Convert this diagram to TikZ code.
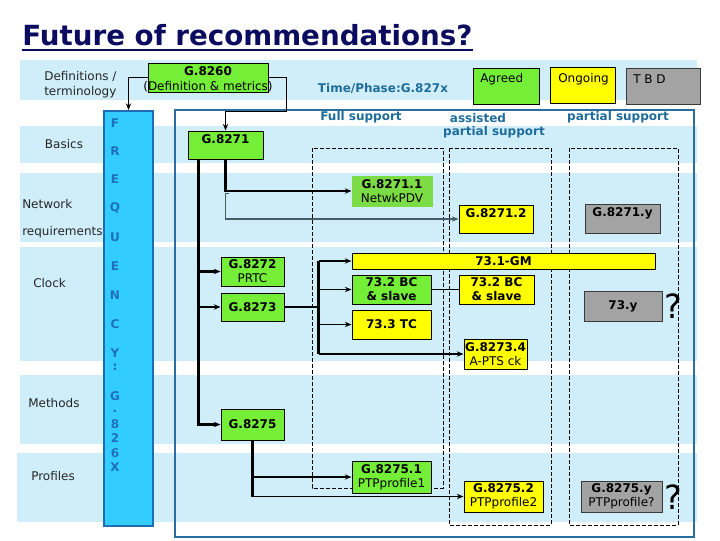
\documentclass[tikz,border=0pt]{standalone}
\usepackage{fontspec}
\setmainfont{DejaVu Sans}
\usetikzlibrary{arrows.meta}
\definecolor{bandblue}{HTML}{CFEEFA}
\definecolor{grn}{HTML}{74EE36}
\definecolor{grn2}{HTML}{7CDC46}
\definecolor{yel}{HTML}{FFFF00}
\definecolor{gry}{HTML}{A3A3A3}
\definecolor{gryb}{HTML}{3A3A3A}
\definecolor{frameblue}{HTML}{2B6E9E}
\definecolor{freqfill}{HTML}{33CCFF}
\definecolor{freqborder}{HTML}{1F6DB4}
\definecolor{freqtxt}{HTML}{1E6FBE}
\definecolor{hdrblue}{HTML}{1E6C9C}
\definecolor{titlenavy}{HTML}{0B0B5F}
\definecolor{greyline}{HTML}{4B5B66}
\newcommand\boxfont{\fontsize{9}{10.5}\selectfont}
\newcommand\lblfont{\fontsize{9}{10.5}\selectfont}
\begin{document}
\begin{tikzpicture}[x=0.75pt,y=-0.75pt,
  band/.style={fill=bandblue},
  bx/.style={draw=black, line width=0.75pt, inner sep=0pt, align=center, font=\boxfont},
  gbox/.style={bx, fill=grn},
  ybox/.style={bx, fill=yel},
  kbox/.style={bx, fill=gry, draw=gryb},
  wh/.style 2 args={minimum width=#1*0.75pt, minimum height=#2*0.75pt},
  conn/.style={line width=0.8pt},
  conn2/.style={line width=1.1pt},
  thk/.style={line width=1.6pt},
  greyl/.style={line width=1.1pt, draw=greyline},
  tip/.style={-{Stealth[length=5pt,width=4pt]}},
  dbox/.style={draw=black, line width=0.6pt, dash pattern=on 3pt off 1.5pt},
  hdr/.style={text=hdrblue, font=\boxfont\bfseries, inner sep=0pt},
  lbl/.style={font=\lblfont, text=black!85, inner sep=0pt},
  txt/.style={font=\boxfont, inner sep=0pt},
  btxt/.style={font=\boxfont\bfseries, inner sep=0pt},
  freqch/.style={text=freqtxt, font=\boxfont\bfseries, inner sep=0pt},
  qm/.style={font=\fontsize{25}{25}\selectfont, inner sep=0pt},
]
\useasboundingbox (0,0) rectangle (720,540);
\fill[white] (0,0) rectangle (720,540);
% bands
\fill[band] (20,60) rectangle (697,100);
\fill[band] (20,126) rectangle (697,163);
\fill[band] (20,173) rectangle (697,242);
\fill[band] (20,247) rectangle (697,361);
\fill[band] (20,375) rectangle (697,444);
\fill[band] (17,453) rectangle (697,522);
% title
\node[anchor=base west, inner sep=0pt, font=\fontsize{20.8}{24}\selectfont\bfseries, text=titlenavy] (title) at (22,45) {Future of recommendations?};
\draw[titlenavy, line width=1.6pt] ([yshift=-4pt]title.base west) -- ([yshift=-4pt]title.base east);
% left labels
\node[lbl, anchor=west] (ldef1) at (44,76) {Definitions /};
\node[lbl, anchor=west] (ldef2) at (44,92) {terminology};
\node[lbl] (lbas) at (64,144) {Basics};
\node[lbl, anchor=west] (lnet) at (22,204) {Network};
\node[lbl, anchor=west] (lreq) at (22,232) {requirements};
\node[lbl, anchor=west] (lclk) at (33,283) {Clock};
\node[lbl, anchor=west] (lmet) at (28,403) {Methods};
\node[lbl, anchor=west] (lpro) at (31,476) {Profiles};
% frame
\draw[frameblue, line width=1.5pt] (175,110) rectangle (694,537);
% FREQ column
\node[draw=freqborder, fill=freqfill, line width=1.5pt, wh={49}{415}] (freq) at (128.5,318.5) {};
\foreach \c/\yy [count=\i] in {F/123, R/151, E/179, Q/208, U/237, E/266, N/295, C/324, Y/353, :/367, G/396, ./411, 8/424, 2/438, 6/453, X/467}
  \node[freqch] (fq\i) at (115,\yy) {\c};
% headers
\node[hdr] (htime) at (383,88) {Time/Phase:G.827x};
\node[hdr] (hfull) at (361,117) {Full support};
\node[hdr] (hasst) at (478,118) {assisted};
\node[hdr] (hpart1) at (494,132) {partial support};
\node[hdr] (hpart2) at (618,117) {partial support};
% legend
\node[gbox, wh={66}{36}] (agreed) at (506,86) {};
\node[txt, anchor=west] (agreedt) at (480,79) {Agreed};
\node[ybox, wh={65}{36}] (ongoing) at (582.5,85) {};
\node[txt, anchor=west] (ongoingt) at (558,79) {Ongoing};
\node[kbox, wh={74}{36}] (tbd) at (663,86) {};
\node[txt, anchor=west] (tbdt) at (633,79) {T B D};
% dashed columns
\draw[dbox] (312,148) rectangle (443,488);
\draw[dbox] (449,148) rectangle (551,525);
\draw[dbox] (569,148) rectangle (678,525);
% boxes
\node[gbox, wh={120}{29}] (g8260) at (208,77.5) {};
\node[btxt] (g8260t) at (208,71) {G.8260};
\node[txt] (g8260d) at (208,86.5) {(Definition \& metrics)};
\node[gbox, wh={75}{28}] (g8271) at (225.5,145) {};
\node[btxt] (g8271t) at (225.5,139) {G.8271};
\node[bx, fill=grn2, draw=grn2, wh={80}{30}] (g82711) at (392,191) {\textbf{G.8271.1}\\NetwkPDV};
\node[ybox, wh={74}{28}] (g82712) at (496,219) {};
\node[btxt] (g82712t) at (496,213) {G.8271.2};
\node[kbox, wh={75}{29}] (g8271y) at (622.5,218.5) {};
\node[btxt] (g8271yt) at (622.5,213) {G.8271.y};
\node[gbox, wh={63}{29}] (g8272) at (252.5,271.5) {\textbf{G.8272}\\PRTC};
\node[gbox, wh={63}{28}] (g8273) at (252.5,307) {\textbf{G.8273}};
\node[ybox, wh={303}{16}] (gm731) at (503.5,261) {\textbf{73.1-GM}};
\node[gbox, wh={79}{29}] (bc732a) at (391.5,289.5) {\textbf{73.2 BC}\\\textbf{\& slave}};
\node[ybox, wh={75}{29}] (bc732b) at (496.5,289.5) {\textbf{73.2 BC}\\\textbf{\& slave}};
\node[ybox, wh={79}{29}] (tc733) at (391.5,324.5) {\textbf{73.3 TC}};
\node[ybox, wh={63}{30}] (g82734) at (495.5,354) {\textbf{G.8273.4}\\A-PTS ck};
\node[kbox, wh={78}{30}] (y73) at (623,306) {\textbf{73.y}};
\node[gbox, wh={63}{31}] (g8275) at (252.5,424.5) {\textbf{G.8275}};
\node[gbox, wh={79}{32}] (g82751) at (391.5,477) {\textbf{G.8275.1}\\PTPprofile1};
\node[ybox, wh={79}{31}] (g82752) at (503.5,496.5) {\textbf{G.8275.2}\\PTPprofile2};
\node[kbox, wh={81}{31}] (g8275y) at (621.5,496.5) {\textbf{G.8275.y}\\PTPprofile?};
\node[qm] (q1) at (673,306) {?};
\node[qm] (q2) at (673,497) {?};
% connectors
\draw[conn2, tip] (g8260.west) -| (freq.north);
\draw[conn2, tip] (g8260.east) -- ++(18,0) |- ([shift={(0,-19)}]g8271.north) -- (g8271.north);
\coordinate (t1) at ([shift={(11,0)}]g8271.south west);
\draw[thk, tip] (t1) |- (g8275.west);
\draw[thk, tip] (t1 |- g8272.west) -- (g8272.west);
\draw[conn, tip] (t1 |- g8273.west) -- (g8273.west);
\draw[thk, tip] (g8271.south) |- (g82711.west);
\draw[greyl, tip] ([shift={(3,34)}]g8271.south) -- ([shift={(0,34)}]g8271.south) |- (g82712.west);
\coordinate (j) at ([shift={(34,0)}]g8273.east);
\draw[thk] (g8273.east) -- (j);
\draw[thk] (j |- gm731.west) -- (j |- g82734.west);
\draw[thk, tip] (j |- gm731.west) -- (gm731.west);
\draw[conn, tip] (j |- bc732a.west) -- (bc732a.west);
\draw[conn, tip] (j |- tc733.west) -- (tc733.west);
\draw[thk, tip] (j |- g82734.west) -- (g82734.west);
\draw[conn] (bc732a.east) -- (bc732b.west);
\draw[thk] (g8275.south) -- (g8275.south |- g82752.west);
\draw[thk, tip] (g8275.south |- g82751.west) -- (g82751.west);
\draw[conn, tip] (g8275.south |- g82752.west) -- (g82752.west);
\end{tikzpicture}
\end{document}
